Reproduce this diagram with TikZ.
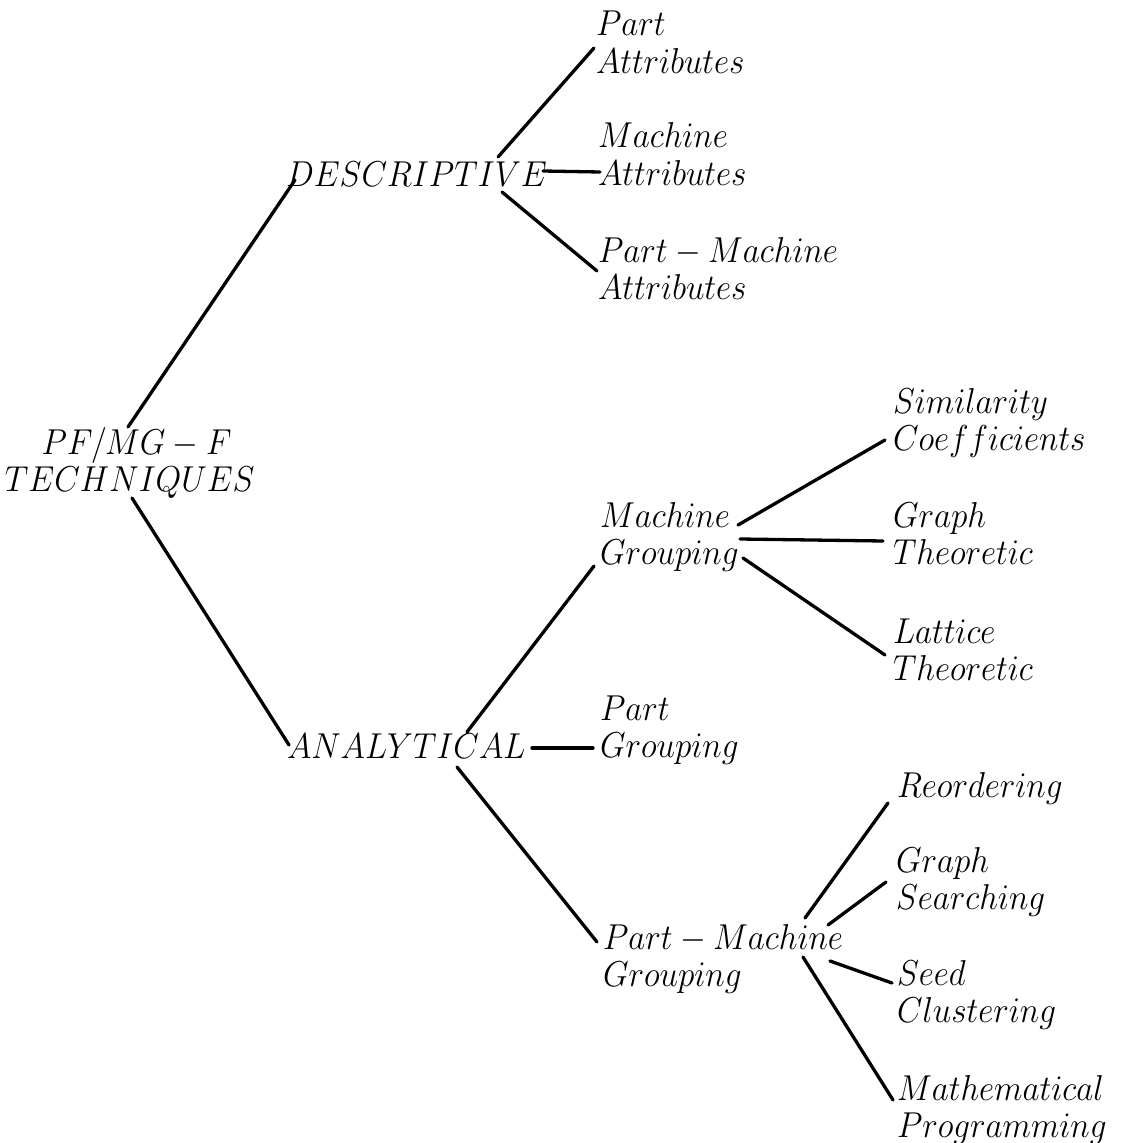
\documentclass[tikz,border=0pt]{standalone}
\usepackage{array}
\usepackage{graphicx}
\newcommand{\hs}[1]{\scalebox{0.92}[1]{#1}}
\newcommand{\twol}[2]{\hs{\begin{tabular}[t]{@{}l@{}}$#1$\\$#2$\end{tabular}}}
\newcommand{\onel}[1]{\hs{$#1$}}
\tikzset{
  lbl/.style={inner sep=0pt, outer sep=0pt, anchor=base west, font=\fontsize{12}{12.5}\selectfont},
  conn/.style={line width=1.1pt, line cap=round}
}
\begin{document}
\begin{tikzpicture}[x=0.33333pt, y=-0.33333pt]
\useasboundingbox (0,0) rectangle (1123,1143);
% text nodes
\node[lbl] (root) at (5,454) {\hs{\begin{tabular}[t]{@{}l@{}}\hspace*{13.3pt}$PF/MG-F$\\$TECHNIQUES$\end{tabular}}};
\node[lbl] (desc) at (286,187) {\onel{DESCRIPTIVE}};
\node[lbl] (pa) at (596,36) {\twol{Part}{Attributes}};
\node[lbl] (ma) at (598,148) {\twol{Machine}{Attributes}};
\node[lbl] (pma) at (598,262) {\twol{Part-Machine}{Attributes}};
\node[lbl] (ana) at (287,758) {\onel{ANALYTICAL}};
\node[lbl] (mg) at (600,527) {\twol{Machine}{Grouping}};
\node[lbl] (pg) at (600,720) {\twol{Part}{Grouping}};
\node[lbl] (pmg) at (603,949) {\twol{Part-Machine}{Grouping}};
\node[lbl] (sim) at (893,413) {\twol{Similarity}{Coefficients}};
\node[lbl] (gt) at (893,527) {\twol{Graph}{Theoretic}};
\node[lbl] (lt) at (893,643) {\twol{Lattice}{Theoretic}};
\node[lbl] (reo) at (897,797) {\onel{Reordering}};
\node[lbl] (gs) at (896,872) {\twol{Graph}{Searching}};
\node[lbl] (sc) at (897,985) {\twol{Seed}{Clustering}};
\node[lbl] (mp) at (897,1100) {\twol{Mathematical}{Programming}};
% connector end points
\coordinate (root-up) at (128,427);
\coordinate (root-dn) at (132,498);
\coordinate (desc-in) at (295,180);
\coordinate (ana-in) at (289,745);
\coordinate (desc-u) at (498,157);
\coordinate (desc-r) at (543,171);
\coordinate (desc-d) at (502,192);
\coordinate (pa-in) at (594,48);
\coordinate (ma-in) at (600,172);
\coordinate (pma-in) at (597,271);
\coordinate (ana-u) at (467,732);
\coordinate (ana-r) at (532,748);
\coordinate (ana-d) at (457,767);
\coordinate (mg-in) at (594,566);
\coordinate (pg-in) at (593,748);
\coordinate (pmg-in) at (597,942);
\coordinate (mg-u) at (738,525);
\coordinate (mg-r) at (740,539);
\coordinate (mg-d) at (743,558);
\coordinate (sim-in) at (885,440);
\coordinate (gt-in) at (883,541);
\coordinate (lt-in) at (885,655);
\coordinate (pmg-a) at (805,918);
\coordinate (pmg-b) at (828,925);
\coordinate (pmg-c) at (830,961);
\coordinate (pmg-d) at (803,957);
\coordinate (reo-in) at (888,803);
\coordinate (gs-in) at (886,882);
\coordinate (sc-in) at (892,983);
\coordinate (mp-in) at (893,1100);
% connectors
\draw[conn] (root-up) -- (desc-in);
\draw[conn] (root-dn) -- (ana-in);
\draw[conn] (desc-u) -- (pa-in);
\draw[conn] (desc-r) -- (ma-in);
\draw[conn] (desc-d) -- (pma-in);
\draw[conn] (ana-u) -- (mg-in);
\draw[conn] (ana-r) -- (pg-in);
\draw[conn] (ana-d) -- (pmg-in);
\draw[conn] (mg-u) -- (sim-in);
\draw[conn] (mg-r) -- (gt-in);
\draw[conn] (mg-d) -- (lt-in);
\draw[conn] (pmg-a) -- (reo-in);
\draw[conn] (pmg-b) -- (gs-in);
\draw[conn] (pmg-c) -- (sc-in);
\draw[conn] (pmg-d) -- (mp-in);
\end{tikzpicture}
\end{document}
